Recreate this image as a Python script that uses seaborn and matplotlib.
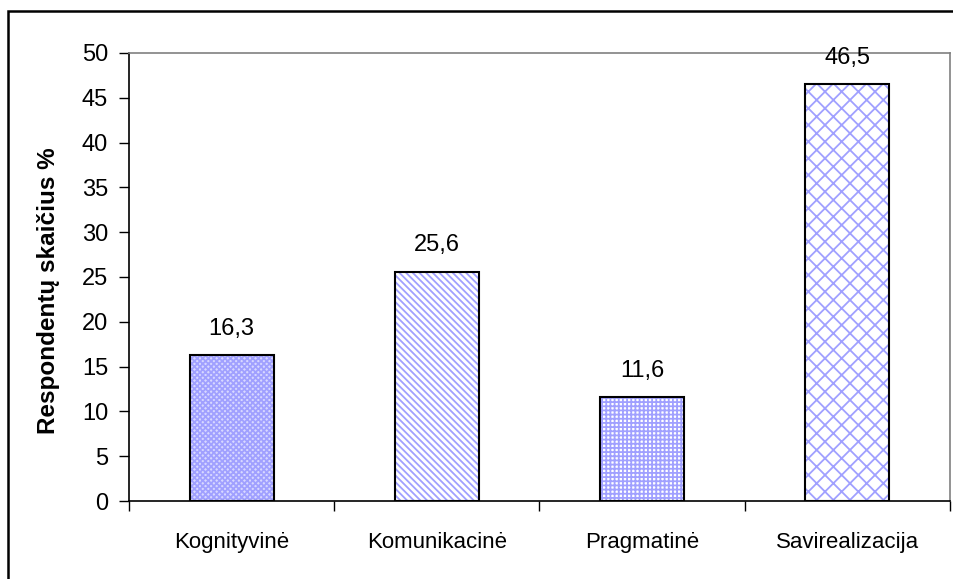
import numpy as np
import pandas as pd
import matplotlib.pyplot as plt
import matplotlib.patches as mpatches
from matplotlib.colors import to_rgba
from matplotlib.ticker import FixedLocator, MultipleLocator
import seaborn as sns

categories = ['Kognityvinė', 'Komunikacinė', 'Pragmatinė', 'Savirealizacija']
values = [16.3, 25.6, 11.6, 46.5]
value_labels = ['16,3', '25,6', '11,6', '46,5']
hatches = ['xxxxxx', '\\\\\\\\\\', '++++', 'xx']
faces = ['#d8d8ff', 'white', 'white', 'white']
hatch_col = '#a0a0ff'

sns.set_theme(style='white')
plt.rcParams['font.family'] = ['Liberation Sans', 'DejaVu Sans']
plt.rcParams['text.color'] = 'black'
plt.rcParams['xtick.color'] = 'black'
plt.rcParams['ytick.color'] = 'black'
plt.rcParams['axes.labelcolor'] = 'black'
plt.rcParams['hatch.linewidth'] = 1.3

df = pd.DataFrame({'cat': categories, 'val': values})

fig = plt.figure(figsize=(9.54, 5.79), dpi=100)
ax = fig.add_axes([129 / 954, 1 - 501 / 579, (950 - 129) / 954, (501 - 53) / 579])

sns.barplot(data=df, x='cat', y='val', ax=ax, width=0.41, color='white',
            edgecolor='black', linewidth=1.5, saturation=1)

# hatch fill per bar, hatch drawn in light blue, outline stays black
for p, h, fc in zip(ax.patches, hatches, faces):
    p.set_facecolor(fc)
    p.set_hatch(h)
    p.set_edgecolor('black')
    p._hatch_color = to_rgba(hatch_col)

for p, lab in zip(ax.patches, value_labels):
    ax.annotate(lab, (p.get_x() + p.get_width() / 2, p.get_height()),
                xytext=(0, 11), textcoords='offset points',
                ha='center', va='bottom', fontsize=17)

ax.set_xlim(-0.5, 3.5)
ax.set_ylim(0, 50)
ax.yaxis.set_major_locator(MultipleLocator(5))
ax.set_xlabel('')
ax.set_ylabel('Respondentų skaičius %', fontsize=17.5, fontweight='bold')
ax.yaxis.set_label_coords(-0.084, 0.47)
ax.tick_params(axis='y', which='major', direction='out', length=7, width=1,
               color='black', labelsize=17, left=True, pad=8)
ax.tick_params(axis='x', which='major', length=0, labelsize=16, pad=22)
ax.xaxis.set_minor_locator(FixedLocator([-0.5, 0.5, 1.5, 2.5, 3.5]))
ax.tick_params(axis='x', which='minor', direction='out', length=7, width=1,
               color='black', bottom=True)

for side in ['left', 'bottom']:
    ax.spines[side].set_color('black')
    ax.spines[side].set_linewidth(1.2)
for side in ['top', 'right']:
    ax.spines[side].set_color('#808080')
    ax.spines[side].set_linewidth(1.2)

border = mpatches.Rectangle((8 / 954, -0.1), 1.2, 1.1 - 11 / 579,
                            transform=fig.transFigure, fill=False,
                            edgecolor='black', linewidth=1.8)
fig.patches.append(border)

fig.savefig('out.png', dpi=100)
